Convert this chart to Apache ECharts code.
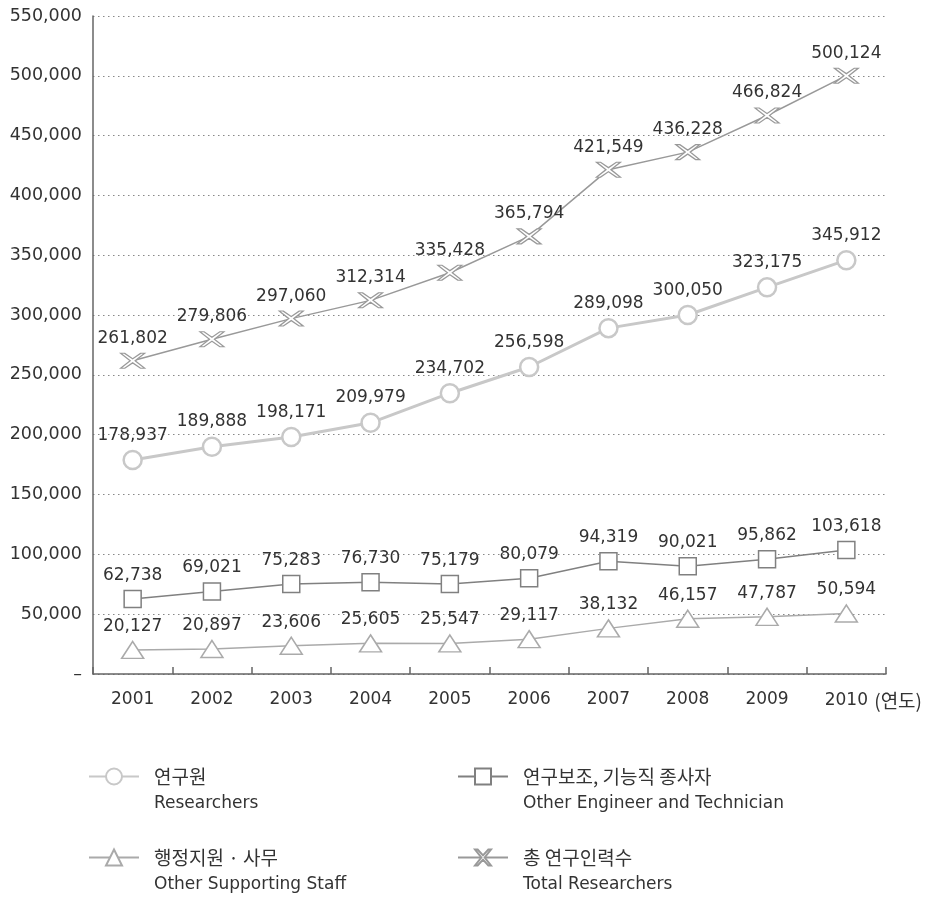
<!DOCTYPE html>
<html><head><meta charset="utf-8">
<script src="https://cdn.jsdelivr.net/npm/echarts@6/dist/echarts.min.js"></script>
<style>html,body{margin:0;padding:0;background:#fff}#c{width:927px;height:900px}</style>
</head><body><div id="c"></div>
<script>
const years = ['2001','2002','2003','2004','2005','2006','2007','2008','2009','2010'];
const researchers = [178937,189888,198171,209979,234702,256598,289098,300050,323175,345912];
const engineers = [62738,69021,75283,76730,75179,80079,94319,90021,95862,103618];
const support = [20127,20897,23606,25605,25547,29117,38132,46157,47787,50594];
const total = [261802,279806,297060,312314,335428,365794,421549,436228,466824,500124];
const yTicks = {min:0, max:550000, interval:50000};
const names = {
  researchers: ['연구원','Researchers'],
  engineers: ['연구보조, 기능직 종사자','Other Engineer and Technician'],
  support: ['행정지원 · 사무','Other Supporting Staff'],
  total: ['총 연구인력수','Total Researchers']
};

const FONT = '"DejaVu Sans", "Noto Sans CJK KR", sans-serif';
const KFONT = '"Noto Sans CJK KR", sans-serif';
const xPath = 'path://M0,0 L4,0 L12,5.5 L20,0 L24,0 L14.5,7.5 L24,15 L20,15 L12,9.5 L4,15 L0,15 L9.5,7.5 Z';
const fmt = v => v.toLocaleString('en-US');
const labelCfg = {show:true, position:'top', distance:6, color:'#333', fontSize:17, fontFamily:FONT, formatter:p=>fmt(p.value)};

const chart = echarts.init(document.getElementById('c'));
function legendFor(key, left, top){
  return {
    data:[key], left:left, top:top, itemWidth:50, itemHeight:20, padding:0,
    formatter: n => '{e| }\n{a|' + names[n][0] + '}\n{b|' + names[n][1] + '}',
    textStyle:{
      fontFamily:FONT, color:'#333',
      rich:{
        e:{fontSize:17, lineHeight:27, padding:[0,0,0,10]},
        a:{fontSize:19, lineHeight:27, color:'#333', fontFamily:KFONT, padding:[0,0,0,10]},
        b:{fontSize:17, lineHeight:27, color:'#333', fontFamily:FONT, padding:[0,0,0,10]}
      }
    }
  };
}
chart.setOption({
  animation:false,
  backgroundColor:'#fff',
  grid:{left:93, right:41, top:16, bottom:226, containLabel:false},
  legend:[
    legendFor('researchers', 88, 741),
    legendFor('engineers', 457, 741),
    legendFor('support', 88, 822),
    legendFor('total', 457, 822)
  ],
  xAxis:{
    type:'category', data:years, boundaryGap:true,
    axisLine:{lineStyle:{color:'#666', width:1.5}},
    axisTick:{show:true, inside:true, length:7, interval:0, lineStyle:{color:'#666', width:1.5}},
    axisLabel:{
      interval:0,
      color:'#333', fontSize:17, fontFamily:FONT, margin:17,
      formatter:(v,i)=> i===years.length-1 ? '{p|}' + v + '{n| (연도)}' : v,
      rich:{p:{width:56}, n:{width:56, align:'left', fontSize:19, fontFamily:KFONT, color:'#333'}}
    },
    splitLine:{show:false}
  },
  yAxis:{
    type:'value', min:yTicks.min, max:yTicks.max, interval:yTicks.interval,
    axisLine:{show:true, lineStyle:{color:'#666', width:1.5}},
    axisTick:{show:false},
    axisLabel:{color:'#333', fontSize:17.5, fontFamily:FONT, margin:11, formatter:v=> v===0 ? '–' : fmt(v)},
    splitLine:{show:true, lineStyle:{color:'#888', type:[1.5,3.5], width:1}}
  },
  series:[
    {name:'researchers', type:'line', data:researchers, symbol:'circle', symbolSize:18,
     lineStyle:{color:'#c8c8c8', width:3}, itemStyle:{color:'#fff', borderColor:'#c8c8c8', borderWidth:2.5},
     label:labelCfg, z:3},
    {name:'engineers', type:'line', data:engineers, symbol:'rect', symbolSize:17,
     lineStyle:{color:'#808080', width:1.5}, itemStyle:{color:'#fff', borderColor:'#808080', borderWidth:1.5},
     label:labelCfg, z:3},
    {name:'support', type:'line', data:support, symbol:'triangle', symbolSize:[22,17],
     lineStyle:{color:'#aaa', width:1.5}, itemStyle:{color:'#fff', borderColor:'#aaa', borderWidth:1.5},
     label:labelCfg, z:3},
    {name:'total', type:'line', data:total, symbol:xPath, symbolSize:[24,15],
     lineStyle:{color:'#999', width:1.5}, itemStyle:{color:'#fff', borderColor:'#999', borderWidth:1.3},
     label:labelCfg, z:3}
  ]
});
</script></body></html>
